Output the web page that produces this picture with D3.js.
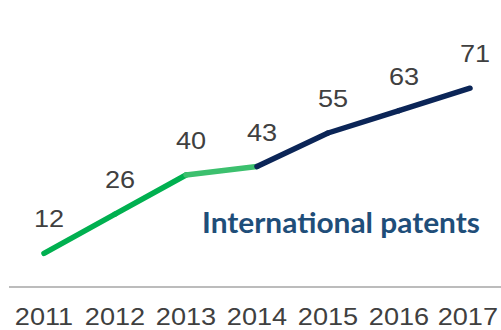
<!DOCTYPE html>
<html>
<head>
<meta charset="utf-8">
<script src="https://cdn.jsdelivr.net/npm/d3@7/dist/d3.min.js"></script>
<style>
  html, body { margin: 0; padding: 0; background: #ffffff; }
  svg { display: block; }
</style>
</head>
<body>
<svg id="chart" width="501" height="330"></svg>
<script>
// Data: international patents per year
const years = [2011, 2012, 2013, 2014, 2015, 2016, 2017];
const patents = [12, 26, 40, 43, 55, 63, 71];
// Segment colours: each entry colours the segment that starts at that year
const segmentColors = ["#00b050", "#00b050", "#3cc06e", "#0b2557", "#0b2557", "#0b2557"];
const seriesTitle = "International patents";

const W = 501, H = 330;
const svg = d3.select("#chart");

const x = d3.scalePoint().domain(years).range([44, 470]);
const y = d3.scaleLinear().domain([0, 80]).range([287, 63]);

const textScaleX = 1.13;

// Baseline rule
svg.append("line")
  .attr("x1", 9).attr("x2", W)
  .attr("y1", y(0)).attr("y2", y(0))
  .attr("stroke", "#a6a6a6")
  .attr("stroke-width", 1.6);

// Year labels under the rule
const yearLabels = svg.append("g").selectAll("text")
  .data(years)
  .join("text")
  .attr("text-anchor", "middle")
  .attr("font-family", "'Liberation Sans', Arial, sans-serif")
  .attr("font-size", 24)
  .attr("fill", "#404040")
  .text(d => d);
yearLabels.attr("transform", function(d) {
  const w = this.getComputedTextLength() * textScaleX;
  const cx = Math.min(x(d), W - 3 - w / 2);
  return `translate(${cx},325) scale(${textScaleX},1)`;
});

// Line, drawn segment by segment
const pts = years.map((yr, i) => ({ yr, v: patents[i] }));
const segs = d3.pairs(pts).map((p, i) => ({ a: p[0], b: p[1], color: segmentColors[i] }));
svg.append("g").selectAll("line")
  .data(segs)
  .join("line")
  .attr("x1", d => x(d.a.yr)).attr("y1", d => y(d.a.v))
  .attr("x2", d => x(d.b.yr)).attr("y2", d => y(d.b.v))
  .attr("stroke", d => d.color)
  .attr("stroke-width", 5.5)
  .attr("stroke-linecap", "round");

// Value labels above the points
svg.append("g").selectAll("text")
  .data(pts)
  .join("text")
  .attr("text-anchor", "middle")
  .attr("font-family", "'Liberation Sans', Arial, sans-serif")
  .attr("font-size", 24)
  .attr("fill", "#404040")
  .attr("transform", d => `translate(${x(d.yr) + 5},${y(d.v) - 26}) scale(${textScaleX},1)`)
  .text(d => d.v);

// Series title
svg.append("text")
  .attr("x", 202).attr("y", 233)
  .attr("font-family", "Lato, 'Open Sans', sans-serif")
  .attr("font-weight", "bold")
  .attr("font-size", 28)
  .attr("fill", "#1f4e79")
  .attr("textLength", 278)
  .attr("lengthAdjust", "spacingAndGlyphs")
  .text(seriesTitle);
</script>
</body>
</html>
